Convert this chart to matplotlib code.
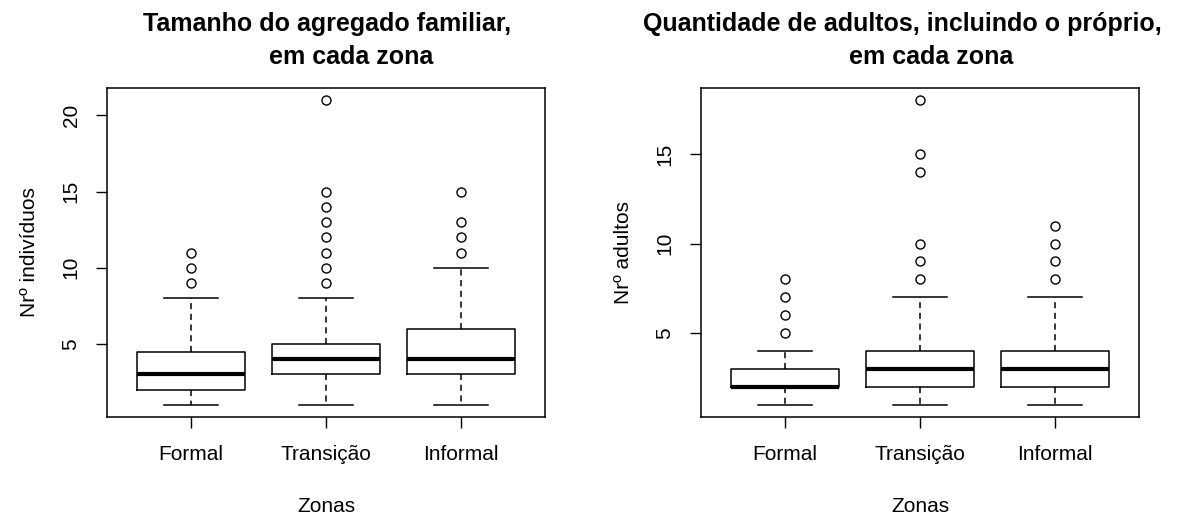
import matplotlib
matplotlib.use("Agg")
import matplotlib.pyplot as plt

plt.rcParams['font.family'] = ['Liberation Sans', 'DejaVu Sans']

zonas = ["Formal", "Transição", "Informal"]

# box statistics per zone: lower whisker, Q1, median, Q3, upper whisker, outliers
agregado_whislo = [1, 1, 1]
agregado_q1 = [2, 3, 3]
agregado_med = [3, 4, 4]
agregado_q3 = [4.5, 5, 6]
agregado_whishi = [8, 8, 10]
agregado_fliers = [[9, 10, 11],
                   [9, 10, 11, 12, 13, 14, 15, 21],
                   [11, 12, 13, 15]]

adultos_whislo = [1, 1, 1]
adultos_q1 = [2, 2, 2]
adultos_med = [2, 3, 3]
adultos_q3 = [3, 4, 4]
adultos_whishi = [4, 7, 7]
adultos_fliers = [[5, 6, 7, 8],
                  [8, 9, 10, 14, 15, 18],
                  [8, 9, 10, 11]]


def make_stats(lo, q1, med, q3, hi, fl):
    return [dict(whislo=a, q1=b, med=c, q3=d, whishi=e, fliers=f, label=z)
            for a, b, c, d, e, f, z in zip(lo, q1, med, q3, hi, fl, zonas)]


def draw_panel(ax, stats, ymax, yticks, title_lines, title_dx, ylabel):
    ax.bxp(stats, positions=[1, 2, 3], widths=0.8, showfliers=True,
           boxprops=dict(color="black", linewidth=1.1),
           whiskerprops=dict(color="black", linewidth=1.1, linestyle=(0, (4, 3))),
           capprops=dict(color="black", linewidth=1.1),
           capwidths=0.4,
           medianprops=dict(color="black", linewidth=3.0, solid_capstyle="butt"),
           flierprops=dict(marker="o", markerfacecolor="none",
                           markeredgecolor="black", markersize=6.5,
                           markeredgewidth=1.0))
    pad = (ymax - 1) * 0.04
    ax.set_ylim(1 - pad, ymax + pad)
    ax.set_xlim(0.38, 3.62)
    ax.set_yticks(yticks)
    ax.set_yticklabels([str(t) for t in yticks], rotation=90, va="center")
    ax.set_xticks([1, 2, 3])
    ax.set_xticklabels(zonas)
    ax.tick_params(axis="both", direction="out", length=8, width=1,
                   labelsize=15, colors="black")
    ax.tick_params(axis="x", pad=12)
    ax.tick_params(axis="y", pad=11)
    for s in ax.spines.values():
        s.set_linewidth(1.1)
    # two-line title, each line placed on its own
    for line, dx, dy in zip(title_lines, title_dx, [57, 24]):
        ax.annotate(line, xy=(0.5 + dx, 1.0), xycoords="axes fraction",
                    xytext=(0, dy * 0.72), textcoords="offset points",
                    ha="center", va="baseline", fontsize=18, fontweight="bold")
    ax.set_xlabel("Zonas", fontsize=15, labelpad=24)
    ax.set_ylabel(ylabel, fontsize=15, labelpad=16)


fig = plt.figure(figsize=(11.91, 5.15), dpi=100)
ax1 = fig.add_axes([107 / 1191, 98 / 515, 438 / 1191, 329 / 515])
ax2 = fig.add_axes([701 / 1191, 98 / 515, 438 / 1191, 329 / 515])

draw_panel(ax1,
           make_stats(agregado_whislo, agregado_q1, agregado_med, agregado_q3,
                      agregado_whishi, agregado_fliers),
           21, [5, 10, 15, 20],
           ["Tamanho do agregado familiar,", "em cada zona"], [0.002, 0.057],
           "Nrº indivíduos")
draw_panel(ax2,
           make_stats(adultos_whislo, adultos_q1, adultos_med, adultos_q3,
                      adultos_whishi, adultos_fliers),
           18, [5, 10, 15],
           ["Quantidade de adultos, incluindo o próprio,", "em cada zona"],
           [-0.04, 0.025],
           "Nrº adultos")

fig.savefig("out.png", dpi=100)
